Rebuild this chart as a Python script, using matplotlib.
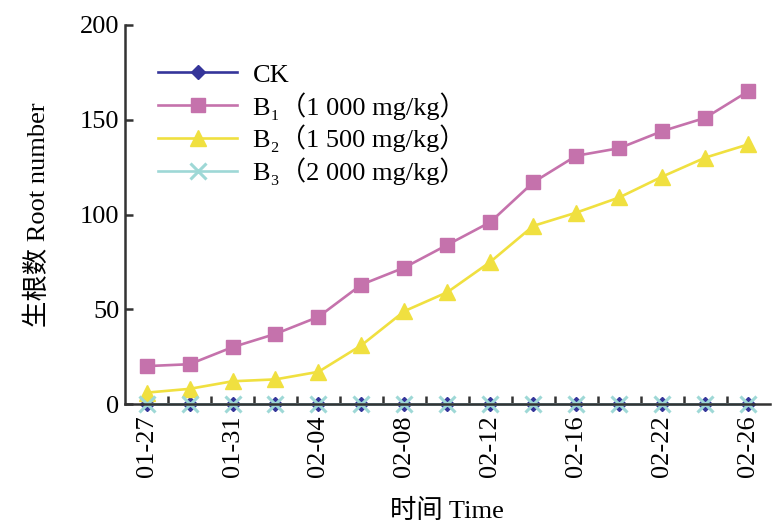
import matplotlib
matplotlib.use("Agg")
import matplotlib.pyplot as plt
import numpy as np

# Sampling dates (labels shown on every second point)
dates = ["01-27", "01-29", "01-31", "02-02", "02-04", "02-06", "02-08", "02-10",
         "02-12", "02-14", "02-16", "02-19", "02-22", "02-24", "02-26"]

ck = [0, 0, 0, 0, 0, 0, 0, 0, 0, 0, 0, 0, 0, 0, 0]
b1 = [20, 21, 30, 37, 46, 63, 72, 84, 96, 117, 131, 135, 144, 151, 165]
b2 = [6, 8, 12, 13, 17, 31, 49, 59, 75, 94, 101, 109, 120, 130, 137]
b3 = [0, 0, 0, 0, 0, 0, 0, 0, 0, 0, 0, 0, 0, 0, 0]

labels = ["CK", "B\u2081\uff081 000 mg/kg\uff09", "B\u2082\uff081 500 mg/kg\uff09",
          "B\u2083\uff082 000 mg/kg\uff09"]

plt.rcParams['font.family'] = ['Liberation Serif', 'Noto Sans CJK SC', 'DejaVu Serif']

fig = plt.figure(figsize=(7.72, 5.23), dpi=100)
ax = fig.add_axes([0.162, 0.2275, 0.835, 0.7247])

x = np.arange(len(dates))
ax.plot(x, ck, color="#35359a", lw=1.9, marker="D", ms=7, label=labels[0], clip_on=False)
ax.plot(x, b1, color="#c572ac", lw=1.9, marker="s", ms=10, label=labels[1], clip_on=False)
ax.plot(x, b2, color="#f0e040", lw=1.9, marker="^", ms=11, label=labels[2], clip_on=False)
ax.plot(x, b3, color="#9ed8d6", lw=1.9, marker="x", ms=11, mew=2.2, label=labels[3], clip_on=False)

ax.set_xlim(-0.5, len(dates) - 0.5)
ax.set_ylim(0, 200)
ax.set_yticks([0, 50, 100, 150, 200])

ax.set_xticks(x[::2])
ax.set_xticklabels(dates[::2], rotation=90)
ax.set_xticks(np.arange(0.5, len(dates) - 0.5, 1), minor=True)
ax.tick_params(axis="x", which="major", length=0, pad=8, labelsize=19)
ax.tick_params(axis="x", which="minor", direction="in", length=6, width=1.8, color="#333333")
ax.tick_params(axis="y", direction="in", length=6, width=1.8, color="#333333", labelsize=19, pad=4)

for s in ["top", "right"]:
    ax.spines[s].set_visible(False)
for s in ["left", "bottom"]:
    ax.spines[s].set_linewidth(1.8)
    ax.spines[s].set_color("#333333")

ax.set_ylabel("生根数 Root number", fontsize=19, labelpad=22)
ax.set_xlabel("时间 Time", fontsize=19, labelpad=16)

ax.legend(loc="upper left", bbox_to_anchor=(0.035, 0.927), frameon=False, fontsize=19,
          handlelength=3.0, handletextpad=0.6, labelspacing=0.2, borderaxespad=0)

fig.savefig("out.png", dpi=100)
